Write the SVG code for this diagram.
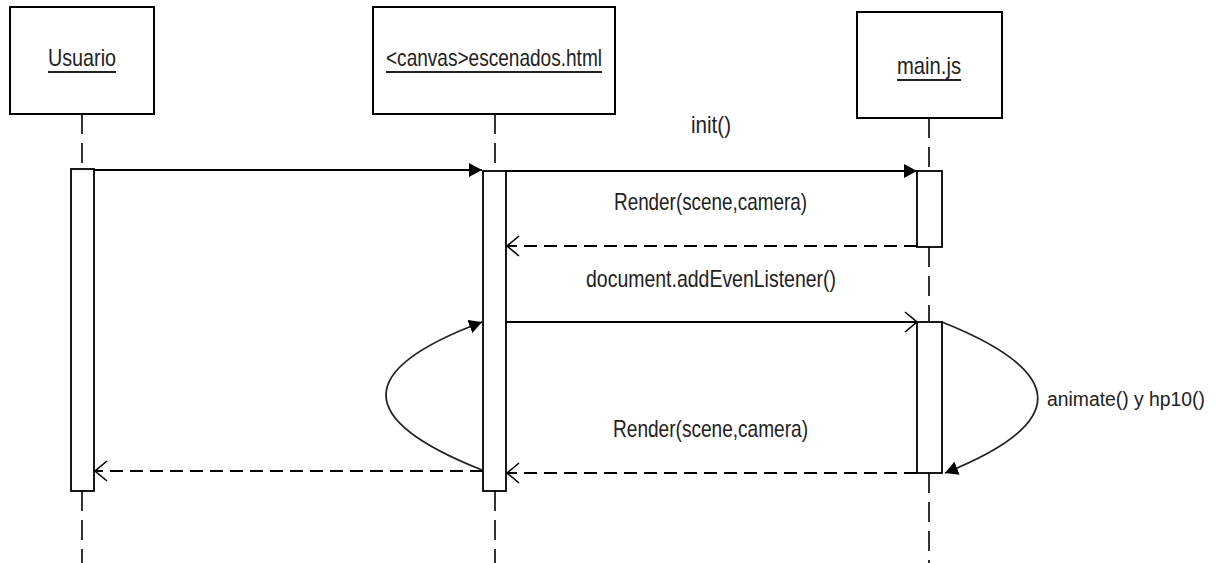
<svg xmlns="http://www.w3.org/2000/svg" width="1219" height="563" viewBox="0 0 1219 563">
<style>
.box{fill:#fff;stroke:#000;stroke-width:2}
.act{fill:#fff;stroke:#000;stroke-width:1.8}
.life{stroke:#000;stroke-width:1.6;stroke-dasharray:20 9;fill:none}
.msg{stroke:#000;stroke-width:2;fill:none}
.ret{stroke:#000;stroke-width:2;fill:none;stroke-dasharray:13 7}
.loop{stroke:#222;stroke-width:1.8;fill:none}
text{font-family:"Liberation Sans",Arial,sans-serif;font-size:24px;fill:#222}
.ul{stroke:#222;stroke-width:1.8}
</style>
<defs>
<marker id="filled" viewBox="0 0 14 14" refX="13" refY="7" markerWidth="14" markerHeight="14" markerUnits="userSpaceOnUse" orient="auto">
<path d="M0,0 L13,7 L0,14 Z" fill="#000"/>
</marker>
<marker id="open" viewBox="0 0 14 22" refX="13" refY="11" markerWidth="14" markerHeight="22" markerUnits="userSpaceOnUse" orient="auto">
<path d="M1,1 L13,11 L1,21" fill="none" stroke="#000" stroke-width="1.6"/>
</marker>
</defs>

<g id="lifelines">
<line class="life" x1="82" y1="114" x2="82" y2="169"/>
<line class="life" x1="82" y1="491" x2="82" y2="563"/>
<line class="life" x1="495" y1="114" x2="495" y2="171"/>
<line class="life" x1="495" y1="491" x2="495" y2="563"/>
<line class="life" x1="929" y1="118" x2="929" y2="171"/>
<line class="life" x1="929" y1="247" x2="929" y2="322"/>
<line class="life" x1="929" y1="473" x2="929" y2="563"/>
</g>

<g id="node-usuario">
<rect class="box" x="10" y="7" width="144" height="107"/>
<text x="48" y="66" textLength="68" lengthAdjust="spacingAndGlyphs">Usuario</text>
<line class="ul" x1="48" y1="72" x2="116" y2="72"/>
<rect class="act" x="71" y="169" width="23" height="322"/>
</g>

<g id="node-canvas">
<rect class="box" x="373" y="7" width="242" height="107"/>
<text x="386" y="66" textLength="216" lengthAdjust="spacingAndGlyphs">&lt;canvas&gt;escenados.html</text>
<line class="ul" x1="386" y1="72" x2="602" y2="72"/>
<rect class="act" x="483" y="171" width="23" height="320"/>
</g>

<g id="node-main">
<rect class="box" x="857" y="12" width="145" height="106"/>
<text x="897" y="74" textLength="64" lengthAdjust="spacingAndGlyphs">main.js</text>
<line class="ul" x1="897" y1="80" x2="961" y2="80"/>
<rect class="act" x="917" y="171" width="25" height="76"/>
<rect class="act" x="917" y="322" width="25" height="151"/>
</g>

<g id="connectors">
<line class="msg" x1="94" y1="170" x2="482" y2="170" marker-end="url(#filled)"/>
<line class="msg" x1="506" y1="171" x2="917" y2="171" marker-end="url(#filled)"/>
<line class="ret" x1="917" y1="246" x2="507" y2="246" marker-end="url(#open)"/>
<line class="msg" x1="506" y1="322" x2="917" y2="322" marker-end="url(#open)"/>
<path class="loop" d="M942,322 Q1132,398 945,473" marker-end="url(#filled)"/>
<line class="ret" x1="917" y1="473" x2="507" y2="473" marker-end="url(#open)"/>
<path class="loop" d="M482,470 Q290,394 482,322" marker-end="url(#filled)"/>
<line class="ret" x1="483" y1="471" x2="95" y2="471" marker-end="url(#open)"/>
</g>

<g id="labels">
<text x="691" y="133" textLength="40" lengthAdjust="spacingAndGlyphs">init()</text>
<text x="614" y="210" textLength="193" lengthAdjust="spacingAndGlyphs">Render(scene,camera)</text>
<text x="586" y="287" textLength="250" lengthAdjust="spacingAndGlyphs">document.addEvenListener()</text>
<text x="613" y="437" textLength="195" lengthAdjust="spacingAndGlyphs">Render(scene,camera)</text>
<text x="1047" y="406" font-size="20" textLength="158" lengthAdjust="spacingAndGlyphs" style="font-size:20px">animate() y hp10()</text>
</g>
</svg>
